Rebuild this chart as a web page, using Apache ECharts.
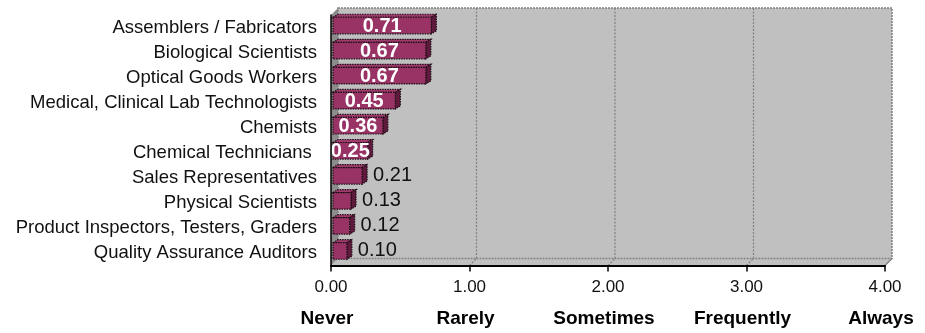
<!DOCTYPE html>
<html>
<head>
<meta charset="utf-8">
<script src="https://cdn.jsdelivr.net/npm/echarts@6/dist/echarts.min.js"></script>
<style>
  html, body { margin: 0; padding: 0; background: #fff; }
  #chart { width: 925px; height: 333px; }
</style>
</head>
<body>
<div id="chart"></div>
<script>
// Occupations, listed top to bottom
const occupations = [
  'Assemblers / Fabricators',
  'Biological Scientists',
  'Optical Goods Workers',
  'Medical, Clinical Lab Technologists',
  'Chemists',
  'Chemical Technicians ',
  'Sales Representatives',
  'Physical Scientists',
  'Product Inspectors, Testers, Graders',
  'Quality Assurance Auditors'
];
// Mean frequency score per occupation
const frequencyScores = [0.71, 0.67, 0.67, 0.45, 0.36, 0.25, 0.21, 0.13, 0.12, 0.10];
// Frequency scale ticks and their names
const scaleTicks = [0, 1, 2, 3, 4];
const scaleNames = ['Never', 'Rarely', 'Sometimes', 'Frequently', 'Always'];

const FONT = "'Liberation Sans', Arial, Helvetica, sans-serif";
const DEPTH = 7;               // wall depth offset in px
const BAR_SHIFT = 2;           // bars sit slightly into the depth
const BAR_DX = 5, BAR_DY = 3;  // bar's own depth
const INSIDE_LABEL_MIN = 0.25; // scores from here up carry the label inside the bar

const chart = echarts.init(document.getElementById('chart'), null, { renderer: 'canvas' });

function renderWalls(params, api) {
  const band = api.size([0, 1])[1];
  const top = api.coord([0, 0])[1] - band / 2;
  const bottom = api.coord([0, occupations.length - 1])[1] + band / 2;
  const x0 = api.coord([scaleTicks[0], 0])[0];
  const xN = api.coord([scaleTicks[scaleTicks.length - 1], 0])[0];
  const D = DEPTH;
  const gridStyle = { stroke: '#7f7f7f', lineWidth: 1.2, lineDash: [2, 1.5] };
  const children = [
    { type: 'polygon', shape: { points: [[x0, bottom], [x0 + D, bottom - D], [xN + D, bottom - D], [xN, bottom]] },
      style: { fill: '#c0c0c0' } },
    { type: 'polygon', shape: { points: [[x0, top], [x0 + D, top - D], [x0 + D, bottom - D], [x0, bottom]] },
      style: { fill: '#8c8c8c' } },
    { type: 'rect', shape: { x: x0 + D, y: top - D, width: xN - x0, height: bottom - top },
      style: { fill: '#c0c0c0', stroke: '#808080', lineWidth: 1.5, lineDash: [2, 1] } },
    { type: 'line', shape: { x1: xN, y1: bottom, x2: xN + D, y2: bottom - D },
      style: { stroke: '#808080', lineWidth: 1.2 } }
  ];
  for (let k = 1; k < scaleTicks.length - 1; k++) {
    const x = api.coord([scaleTicks[k], 0])[0];
    children.push({ type: 'line', shape: { x1: x + D, y1: top - D, x2: x + D, y2: bottom - D }, style: gridStyle });
    children.push({ type: 'line', shape: { x1: x, y1: bottom, x2: x + D, y2: bottom - D }, style: gridStyle });
  }
  return { type: 'group', children };
}

function renderBar(params, api) {
  const value = api.value(0);
  const idx = api.value(1);
  const start = api.coord([0, idx]);
  const end = api.coord([value, idx]);
  const band = api.size([0, 1])[1];
  const h = band * 0.66;
  const xl = start[0] + BAR_SHIFT;
  const xr = end[0] + BAR_SHIFT;
  const yc = start[1] - BAR_SHIFT;
  const yt = yc - h / 2, yb = yc + h / 2;
  const edge = { stroke: '#1e0c14', lineWidth: 1.2, lineDash: [1.5, 1] };
  const children = [
    { type: 'polygon', shape: { points: [[xl, yt], [xl + BAR_DX, yt - BAR_DY], [xr + BAR_DX, yt - BAR_DY], [xr, yt]] },
      style: Object.assign({ fill: '#a03a6c' }, edge) },
    { type: 'polygon', shape: { points: [[xr, yt], [xr + BAR_DX, yt - BAR_DY], [xr + BAR_DX, yb - BAR_DY], [xr, yb]] },
      style: Object.assign({ fill: '#5e1a3c' }, edge) },
    { type: 'rect', shape: { x: xl, y: yt, width: xr - xl, height: h },
      style: Object.assign({ fill: '#993366' }, edge) }
  ];
  const text = value.toFixed(2);
  if (value >= INSIDE_LABEL_MIN) {
    children.push({ type: 'text', z2: 10, style: {
      text, x: (xl + xr) / 2, y: yc + 0.5, align: 'center', verticalAlign: 'middle',
      fill: '#ffffff', fontFamily: FONT, fontSize: 20, fontWeight: 'bold' } });
  } else {
    children.push({ type: 'text', z2: 10, style: {
      text, x: xr + BAR_DX + 6, y: yc - 0.5, align: 'left', verticalAlign: 'middle',
      fill: '#111111', fontFamily: FONT, fontSize: 20 } });
  }
  return { type: 'group', children };
}

const option = {
  backgroundColor: '#ffffff',
  animation: false,
  grid: { left: 331, right: 40, top: 15, bottom: 67.5 },
  xAxis: {
    type: 'value',
    min: scaleTicks[0],
    max: scaleTicks[scaleTicks.length - 1],
    interval: 1,
    z: 10,
    axisLine: { show: true, lineStyle: { color: '#000', width: 2, type: [2, 1] } },
    axisTick: { show: true, length: 6, lineStyle: { color: '#000', width: 1.5 } },
    splitLine: { show: false },
    axisLabel: {
      margin: 11,
      showMinLabel: true,
      showMaxLabel: true,
      formatter: function (v) {
        const i = scaleTicks.indexOf(v);
        return '{v|' + v.toFixed(2) + '}\n{n|' + (i >= 0 ? scaleNames[i] : '') + '}';
      },
      rich: {
        v: { fontFamily: FONT, fontSize: 17, color: '#111', lineHeight: 22 },
        n: { fontFamily: FONT, fontSize: 19, fontWeight: 'bold', color: '#000', lineHeight: 41, padding: [0, 8, 0, 0] }
      }
    }
  },
  yAxis: {
    type: 'category',
    data: occupations,
    inverse: true,
    z: 10,
    axisLine: { show: true, lineStyle: { color: '#000', width: 1.5 } },
    axisTick: { show: false },
    splitLine: { show: false },
    axisLabel: { margin: 14, fontFamily: FONT, fontSize: 18.5, color: '#111' }
  },
  series: [
    {
      name: 'walls',
      type: 'custom',
      z: 1,
      silent: true,
      renderItem: renderWalls,
      data: [[0, 0]],
      encode: { x: 0, y: 1 }
    },
    {
      name: 'score',
      type: 'custom',
      z: 3,
      renderItem: renderBar,
      data: frequencyScores.map((v, i) => [v, i]),
      encode: { x: 0, y: 1 }
    }
  ]
};

chart.setOption(option);
</script>
</body>
</html>
